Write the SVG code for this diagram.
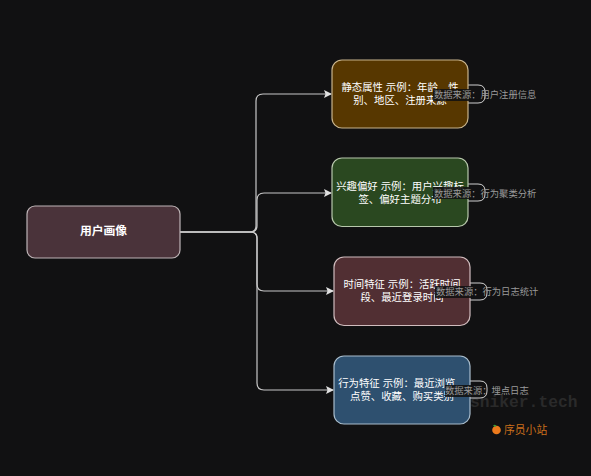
<svg xmlns="http://www.w3.org/2000/svg" width="591" height="476" viewBox="0 0 591 476">
<style>
text{font-family:"Liberation Sans","Noto Sans CJK SC",sans-serif}
.n{stroke-width:1.2}
.t{font-size:10.4px;fill:#fff;text-anchor:middle}
.l{font-size:9.3px;fill:#9a9a9a}
.b{fill:none;stroke:#cfcfcf;stroke-width:1}
.c{fill:none;stroke:#c8c8c8;stroke-width:1.2}
.bg{fill:#111;fill-opacity:.88}
</style>
<defs><marker id="a" markerWidth="9" markerHeight="9" refX="7" refY="4" orient="auto" markerUnits="userSpaceOnUse"><path d="M0 0L8 4L0 8L1.500 4Z" fill="#e0e0e0"/></marker></defs>
<rect width="591" height="476" fill="#111112"/>
<text x="470" y="407" style="font-family:'Liberation Mono',monospace;font-size:16.300px;font-weight:700" fill="#2a2a2a">sniker.tech</text>
<g id="connectors">
<path class="c" d="M180 232H250Q256 232 256 226V101Q256 94 263 94H331" marker-end="url(#a)"/>
<path class="c" d="M180 232H250Q257 232 257 226V200Q257 193 264 193H331" marker-end="url(#a)"/>
<path class="c" d="M180 232H250Q257 232 257 238V284Q257 291 264 291H333" marker-end="url(#a)"/>
<path class="c" d="M180 232H250Q257 232 257 238V383Q257 390 264 390H333" marker-end="url(#a)"/>
</g>
<g id="root"><rect class="n" x="27" y="206" width="153" height="52" rx="8" fill="#4a333a" stroke="#bdb4b6"/><text x="103.500" y="235" class="t" style="font-size:11.800px;font-weight:700">用户画像</text></g>
<g id="node-1">
<path class="b" d="M468 85H478Q485 85 485 92V96Q485 103 478 103H468"/>
<rect class="n" x="332" y="60" width="136" height="68" rx="10" fill="#573700" stroke="#c8b48c"/>
<text x="400" y="91" class="t">静态属性 示例：年龄、性</text><text x="400" y="104" class="t">别、地区、注册来源</text>
<rect class="bg" x="433" y="89" width="36" height="12"/><text x="434" y="98" class="l">数据来源：用户注册信息</text></g>
<g id="node-2">
<path class="b" d="M468 184H478Q485 184 485 191V194Q485 201 478 201H468"/>
<rect class="n" x="332" y="158" width="136" height="68.500" rx="10" fill="#2a4820" stroke="#b8c8ac"/>
<text x="400" y="190" class="t">兴趣偏好 示例：用户兴趣标</text><text x="400" y="203" class="t">签、偏好主题分布</text>
<rect class="bg" x="433" y="187" width="36" height="12"/><text x="434" y="197" class="l">数据来源：行为聚类分析</text></g>
<g id="node-3">
<path class="b" d="M470 283H480Q487 283 487 290V293Q487 300 480 300H470"/>
<rect class="n" x="334" y="257" width="136" height="68.500" rx="10" fill="#512f33" stroke="#d0bcbe"/>
<text x="402" y="288" class="t">时间特征 示例：活跃时间</text><text x="402" y="301" class="t">段、最近登录时间</text>
<rect class="bg" x="435" y="286" width="36" height="12"/><text x="436" y="295" class="l">数据来源：行为日志统计</text></g>
<g id="node-4">
<path class="b" d="M470 381H480Q487 381 487 388V391Q487 398 480 398H470"/>
<rect class="n" x="334" y="356" width="136" height="68" rx="10" fill="#2e506f" stroke="#a8bccc"/>
<text x="402" y="387" class="t">行为特征 示例：最近浏览、</text><text x="402" y="400" class="t">点赞、收藏、购买类别</text>
<rect class="bg" x="445" y="385" width="26" height="12"/><text x="445" y="394" class="l">数据来源：埋点日志</text></g>
<g id="watermark"><circle cx="496.500" cy="430" r="4.300" fill="#ec7a1c"/><path d="M493 425.500Q495 424 496.500 426L495 427Z" fill="#3a9a3a"/><text x="504" y="434" style="font-size:10.800px" fill="#c96f1c">序员小站</text></g>
</svg>
